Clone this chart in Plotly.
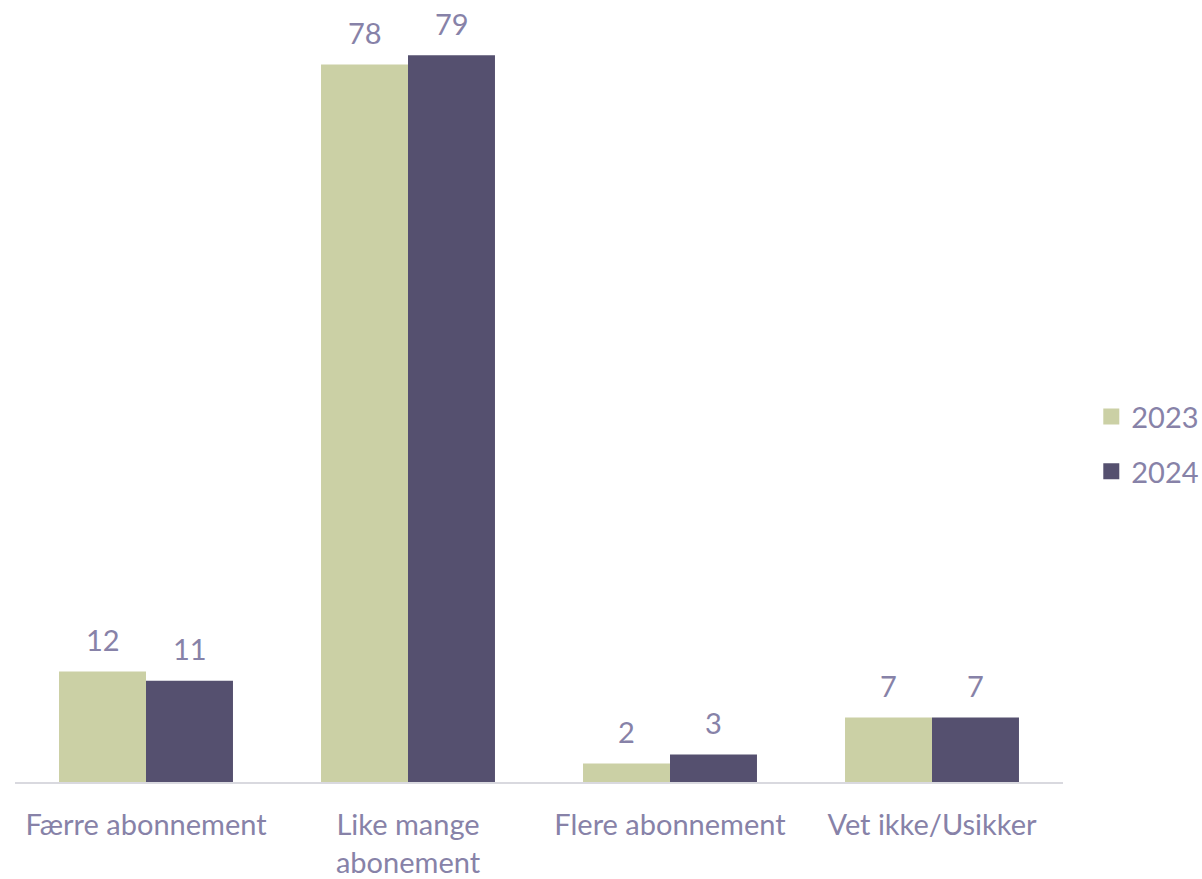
import plotly.graph_objects as go

categories = ["Færre abonnement", "Like mange<br>abonement", "Flere abonnement", "Vet ikke/Usikker"]
values_2023 = [12, 78, 2, 7]
values_2024 = [11, 79, 3, 7]
series_names = ["2023", "2024"]

col_2023 = "#CBD0A5"
col_2024 = "#55506F"
text_col = "#8782A8"
font_family = "Lato, 'Source Sans Pro', 'Noto Sans', sans-serif"
fs = 29

fig = go.Figure()
for name, vals, col in [(series_names[0], values_2023, col_2023), (series_names[1], values_2024, col_2024)]:
    fig.add_trace(go.Bar(
        x=categories, y=vals, name=name, marker=dict(color=col, line=dict(width=0)),
        legendgroup=name, showlegend=False,
    ))
    # legend entry with a larger square swatch
    fig.add_trace(go.Scatter(
        x=[None], y=[None], mode="markers", name=name, legendgroup=name,
        marker=dict(symbol="square", size=16, color=col),
    ))

# value labels above each bar
bar_px = 87
for vals, shift in [(values_2023, -bar_px / 2), (values_2024, bar_px / 2)]:
    for c, v in zip(categories, vals):
        fig.add_annotation(x=c, y=v, text=str(v), showarrow=False, xshift=shift,
                           yshift=32, font=dict(size=fs, color=text_col, family=font_family))

fig.update_layout(
    width=1202, height=879,
    margin=dict(l=15, r=139, t=46, b=97, autoexpand=False),
    paper_bgcolor="white", plot_bgcolor="white",
    barmode="group", bargap=0.336, bargroupgap=0,
    font=dict(family=font_family, size=fs, color=text_col),
    showlegend=True,
    legend=dict(x=1.027, y=0.459, xanchor="left", yanchor="middle",
                traceorder="grouped", tracegroupgap=14,
                font=dict(size=fs, color=text_col), itemwidth=30),
    xaxis=dict(showline=True, linecolor="#D9D9DF", linewidth=2, ticks="",
               ticklabelstandoff=16, automargin=False,
               tickfont=dict(size=fs, color=text_col), fixedrange=True),
    yaxis=dict(range=[0, 80], visible=False, showgrid=False, zeroline=False,
               automargin=False),
)

fig.write_html("out.html")
